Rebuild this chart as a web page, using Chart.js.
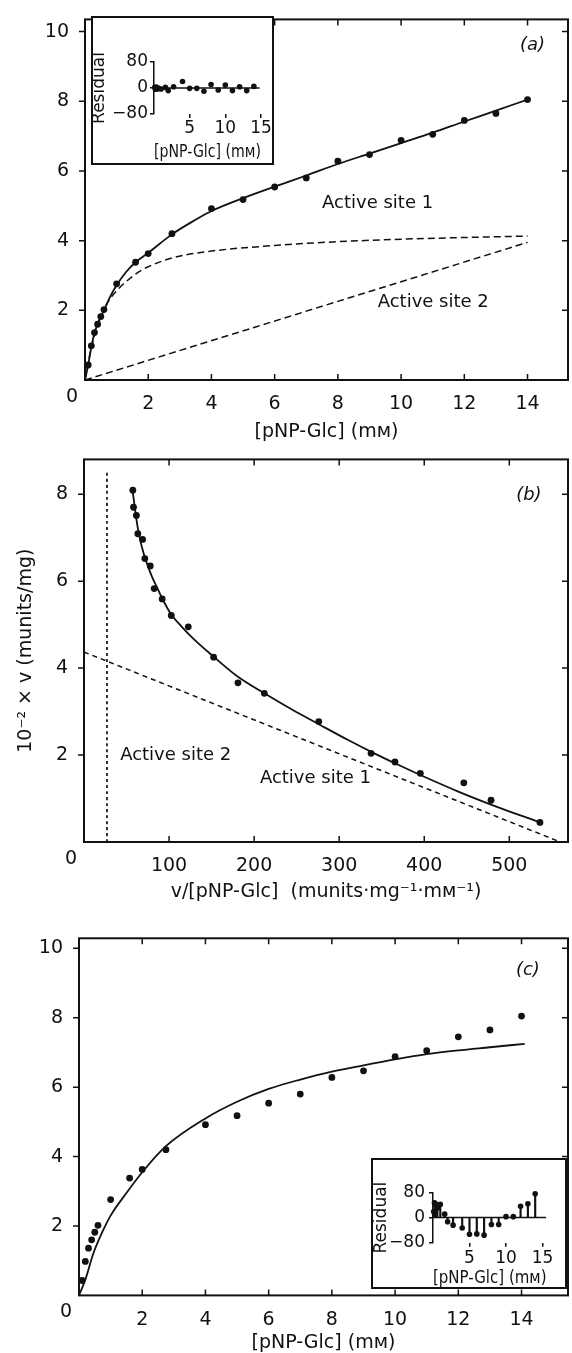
<!DOCTYPE html>
<html lang="en">
<head>
<meta charset="UTF-8">
<title>pNP-Glc hydrolysis kinetics</title>
<script src="https://cdn.jsdelivr.net/npm/chart.js"></script>
<style>
  body { margin: 0; background: #fff; }
  #page { position: relative; width: 572px; height: 1353px; overflow: hidden; }
  .box { position: absolute; }
</style>
</head>
<body>
<div id="page">
  <div class="box" style="left:0;top:0"><canvas id="chartA" width="572" height="455"></canvas></div>
  <div class="box" style="left:0;top:440px"><canvas id="chartB" width="572" height="470"></canvas></div>
  <div class="box" style="left:0;top:910px"><canvas id="chartC" width="572" height="443"></canvas></div>
  <div class="box" style="left:91px;top:16px"><canvas id="insetA" width="183" height="149"></canvas></div>
  <div class="box" style="left:371px;top:1158px"><canvas id="insetC" width="196" height="131"></canvas></div>
</div>
<script>
// substrate concentration (mM) and rate (10^-2 x munits/mg), panels (a) and (c)
const conc = [0.1, 0.2, 0.3, 0.4, 0.5, 0.6, 1.0, 1.6, 2.0, 2.75, 4, 5, 6, 7, 8, 9, 10, 11, 12, 13, 14];
const rate = [0.43, 0.98, 1.36, 1.6, 1.82, 2.02, 2.76, 3.38, 3.63, 4.2, 4.92, 5.18, 5.54, 5.8, 6.28, 6.47, 6.88, 7.05, 7.45, 7.65, 8.05];

// (a) two-site fit and its components
const fitAx = [0, 0.1, 0.2, 0.3, 0.4, 0.5, 0.6, 0.8, 1.0, 1.3, 1.6, 2.0, 2.75, 3.5, 4, 5, 6, 7, 8, 9, 10, 11, 12, 13, 14];
const fitAy = [0, 0.43, 0.95, 1.35, 1.62, 1.82, 2.0, 2.4, 2.72, 3.1, 3.38, 3.65, 4.18, 4.6, 4.85, 5.22, 5.55, 5.87, 6.2, 6.5, 6.8, 7.1, 7.42, 7.73, 8.05];
const site1Ax = [0, 0.1, 0.2, 0.3, 0.5, 0.7, 1.0, 1.6, 2.0, 2.75, 4, 6, 8, 10, 12, 14];
const site1Ay = [0, 0.5, 0.9, 1.28, 1.8, 2.2, 2.56, 3.04, 3.25, 3.5, 3.7, 3.86, 3.97, 4.04, 4.09, 4.13];
const site2Ax = [0, 14];
const site2Ay = [0, 3.95];
const residA = [2, -4, 3, 0, -3, 0, -3, 2, -8, 4, 20, -1, -1, -10, 11, -6, 9, -8, 4, -8, 5];

// (b) Eadie-Hofstee plot
const ehX = [57.4, 58.2, 61.6, 63.3, 68.9, 71.5, 77.9, 82.5, 91.9, 102.6, 122.6, 152.4, 181, 212, 276, 337.5, 365.6, 395.4, 446.5, 478.5, 536];
const ehY = [8.09, 7.7, 7.51, 7.09, 6.96, 6.52, 6.35, 5.83, 5.59, 5.21, 4.95, 4.25, 3.66, 3.42, 2.77, 2.04, 1.84, 1.58, 1.36, 0.96, 0.45];
const fitBx = [57, 60, 63, 66, 70, 75, 80, 86, 92, 102, 115, 130, 152, 181, 212, 245, 276, 310, 340, 370, 400, 440, 480, 536];
const fitBy = [8.1, 7.65, 7.25, 6.95, 6.65, 6.35, 6.1, 5.85, 5.6, 5.25, 4.95, 4.65, 4.27, 3.8, 3.42, 3.04, 2.71, 2.35, 2.05, 1.77, 1.5, 1.16, 0.85, 0.45];
const site1Bx = [0, 560];
const site1By = [4.37, 0];
const site2Bx = [27, 27];
const site2By = [0, 8.5];

// (c) single-site fit
const fitCx = [0, 0.2, 0.45, 0.75, 1.0, 1.5, 2.0, 2.75, 4, 5, 6, 7, 8, 9, 10, 11, 12, 13, 14.1];
const fitCy = [0, 0.45, 1.2, 1.85, 2.3, 2.95, 3.55, 4.3, 5.1, 5.58, 5.95, 6.22, 6.45, 6.63, 6.8, 6.95, 7.06, 7.15, 7.25];
const residC = [19, 47, 45, 40, 35, 30, 42, 11, -13, -24, -33, -53, -52, -56, -22, -22, 3, 3, 36, 44, 76];

// tick values
const xTicksA = [0, 2, 4, 6, 8, 10, 12, 14];
const yTicksA = [2, 4, 6, 8, 10];
const xTicksB = [100, 200, 300, 400, 500];
const yTicksB = [2, 4, 6, 8];
const xTicksC = [0, 2, 4, 6, 8, 10, 12, 14];
const yTicksC = [2, 4, 6, 8, 10];
const insetXTicks = [5, 10, 15];
const insetYTicks = [-80, 0, 80];
const zeroAx = [0, 14.8], zeroCx = [0, 15.5], zeroY = [0, 0];

const INK = '#111';
const FAMILY = '"DejaVu Sans", "Liberation Sans", sans-serif';
const MM = 'm\u1D0D';
Chart.defaults.font.family = FAMILY;
Chart.defaults.font.size = 19;
Chart.defaults.color = INK;

const pts = (xs, ys) => xs.map((v, i) => ({x: v, y: ys[i]}));

// frame, tick marks, corner "0" and text notes
const frame = {
  id: 'frame',
  afterDraw(chart, args, o) {
    const {ctx, chartArea: a} = chart;
    const x = chart.scales.x, y = chart.scales.y;
    ctx.save();
    ctx.strokeStyle = INK;
    ctx.lineWidth = 2;
    ctx.strokeRect(a.left, a.top, a.right - a.left, a.bottom - a.top);
    ctx.lineWidth = 1.5;
    ctx.beginPath();
    x.ticks.forEach(t => {
      if (t.value === x.min) return;
      const px = x.getPixelForValue(t.value);
      ctx.moveTo(px, a.bottom); ctx.lineTo(px, a.bottom - 6);
      ctx.moveTo(px, a.top); ctx.lineTo(px, a.top + 6);
    });
    y.ticks.forEach(t => {
      const py = y.getPixelForValue(t.value);
      ctx.moveTo(a.left, py); ctx.lineTo(a.left - 6, py);
      ctx.moveTo(a.right, py); ctx.lineTo(a.right - 6, py);
    });
    ctx.stroke();
    ctx.fillStyle = INK;
    ctx.textBaseline = 'middle';
    ctx.textAlign = 'center';
    ctx.font = '19px ' + FAMILY;
    ctx.fillText('0', x.getPixelForValue(0) - 13, a.bottom + 17);
    (o.notes || []).forEach(n => {
      ctx.font = (n.italic ? 'italic ' : '') + '18px ' + FAMILY;
      ctx.textAlign = n.align || 'left';
      ctx.fillText(n.text, x.getPixelForValue(n.x), y.getPixelForValue(n.y));
    });
    ctx.restore();
  }
};

const insetBox = {
  id: 'insetBox',
  beforeDraw(chart) {
    const c = chart.ctx;
    c.save(); c.fillStyle = '#fff'; c.fillRect(0, 0, chart.width, chart.height); c.restore();
  },
  afterDraw(chart) {
    const c = chart.ctx;
    c.save(); c.strokeStyle = INK; c.lineWidth = 2;
    c.strokeRect(1, 1, chart.width - 2, chart.height - 2); c.restore();
  }
};

const curve = (xs, ys, dash, width) => ({
  data: pts(xs, ys), showLine: true, pointRadius: 0, borderColor: INK,
  borderWidth: width || 1.8, borderDash: dash || [], cubicInterpolationMode: 'monotone', clip: false
});
const dots = (xs, ys, r) => ({
  data: pts(xs, ys), pointRadius: r || 3.4, pointBackgroundColor: INK, pointBorderColor: INK,
  pointBorderWidth: 0, showLine: false, clip: false
});

function panel(id, c) {
  return new Chart(document.getElementById(id), {
    type: 'scatter',
    data: {datasets: c.datasets},
    options: {
      responsive: false, animation: false,
      layout: {padding: {top: c.top, right: c.right, left: 0, bottom: 0}},
      plugins: {legend: {display: false}, tooltip: {enabled: false}, frame: {notes: c.notes}},
      scales: {
        x: {
          type: 'linear', min: 0, max: c.xMax,
          afterBuildTicks: s => { s.ticks = c.xTicks.map(v => ({value: v})); },
          afterFit: s => { s.height = c.xHeight; },
          grid: {display: false}, border: {display: false},
          ticks: {maxRotation: 0, autoSkip: false, padding: 5, callback: v => v === 0 ? '' : v},
          title: {display: true, text: c.xTitle, font: {size: 19, lineHeight: 1}, padding: {top: 0, bottom: c.xTitlePad}}
        },
        y: {
          type: 'linear', min: 0, max: c.yMax,
          afterBuildTicks: s => { s.ticks = c.yTicks.map(v => ({value: v})); },
          afterFit: s => { s.width = c.yWidth; },
          grid: {display: false}, border: {display: false},
          ticks: {autoSkip: false, padding: 8},
          title: {display: !!c.yTitle, text: c.yTitle || '', font: {size: 19, lineHeight: 1}, padding: {top: c.yTitlePad || 0, bottom: 0}}
        }
      }
    },
    plugins: [frame]
  });
}

function inset(id, c) {
  return new Chart(document.getElementById(id), {
    type: 'scatter',
    data: {datasets: c.datasets},
    options: {
      responsive: false, animation: false,
      layout: {padding: {top: c.top, right: c.right, left: 0, bottom: 0}},
      plugins: {legend: {display: false}, tooltip: {enabled: false}},
      scales: {
        x: {
          type: 'linear', min: 0, max: c.xMax, offset: false,
          afterBuildTicks: s => { s.ticks = insetXTicks.map(v => ({value: v})); },
          afterFit: s => { s.height = c.xHeight; },
          grid: {display: true, drawOnChartArea: false, tickLength: 4, color: INK, lineWidth: 1.5, offset: false},
          border: {display: false},
          ticks: {maxRotation: 0, autoSkip: false, padding: c.xLabelPad, font: {size: 17}},
          title: {display: true, text: '[pNP-Glc] (' + MM + ')', font: {size: 17, lineHeight: 1}, padding: {top: 0, bottom: c.xTitlePad}}
        },
        y: {
          type: 'linear', min: -80, max: 80,
          afterBuildTicks: s => { s.ticks = insetYTicks.map(v => ({value: v})); },
          afterFit: s => { s.width = c.yWidth; },
          grid: {display: true, drawOnChartArea: false, tickLength: 4, color: INK, lineWidth: 1.5},
          border: {display: true, color: INK, width: 1.5},
          ticks: {autoSkip: false, padding: c.yLabelPad, font: {size: 17}, callback: v => v < 0 ? '\u2212' + (-v) : v},
          title: {display: true, text: 'Residual', font: {size: 17, lineHeight: 1}, padding: {top: c.yTitlePad, bottom: 0}}
        }
      }
    },
    plugins: [insetBox]
  });
}

panel('chartA', {
  top: 17, right: 2, yWidth: 85, xHeight: 75, xMax: 15.28, yMax: 10.35,
  xTicks: xTicksA, yTicks: yTicksA, xTitle: '[pNP-Glc] (' + MM + ')', xTitlePad: 13,
  datasets: [
    curve(fitAx, fitAy),
    curve(site1Ax, site1Ay, [7, 4], 1.5),
    curve(site2Ax, site2Ay, [7, 4], 1.5),
    dots(conc, rate)
  ],
  notes: [
    {text: '(a)', x: 14.16, y: 9.61, align: 'center', italic: true},
    {text: 'Active site 1', x: 7.5, y: 5.08},
    {text: 'Active site 2', x: 9.26, y: 2.22}
  ]
});

panel('chartB', {
  top: 16.7, right: 1, yWidth: 84, xHeight: 68, xMax: 569, yMax: 8.8,
  xTicks: xTicksB, yTicks: yTicksB,
  xTitle: 'v/[pNP-Glc]  (munits\u00B7mg\u207B\u00B9\u00B7' + MM + '\u207B\u00B9)', xTitlePad: 8,
  yTitle: '10\u207B\u00B2 \u00D7 v (munits/mg)', yTitlePad: 17,
  datasets: [
    curve(fitBx, fitBy),
    curve(site1Bx, site1By, [5, 4], 1.5),
    curve(site2Bx, site2By, [3, 3], 1.7),
    dots(ehX, ehY)
  ],
  notes: [
    {text: '(b)', x: 523, y: 7.97, align: 'center', italic: true},
    {text: 'Active site 2', x: 42.5, y: 1.99},
    {text: 'Active site 1', x: 206.8, y: 1.46}
  ]
});

panel('chartC', {
  top: 28.3, right: 3, yWidth: 79, xHeight: 57.6, xMax: 15.47, yMax: 10.29,
  xTicks: xTicksC, yTicks: yTicksC, xTitle: '[pNP-Glc] (' + MM + ')', xTitlePad: 0,
  datasets: [
    curve(fitCx, fitCy),
    dots(conc, rate)
  ],
  notes: [
    {text: '(c)', x: 14.2, y: 9.38, align: 'center', italic: true}
  ]
});

inset('insetA', {
  top: 46, right: 13, yWidth: 63, xHeight: 51, xMax: 15,
  xLabelPad: 0, xTitlePad: 3.5, yLabelPad: 2, yTitlePad: 0,
  datasets: [
    curve(zeroAx, zeroY, [], 1.5),
    dots(conc, residA, 2.8)
  ]
});

inset('insetC', {
  top: 34.5, right: 20.5, yWidth: 62, xHeight: 46.3, xMax: 15.55,
  xLabelPad: 2, xTitlePad: 1.5, yLabelPad: 4, yTitlePad: 2.5,
  datasets: [
    curve(zeroCx, zeroY, [], 1.5),
    {type: 'bar', data: pts(conc, residC), barThickness: 1.5, backgroundColor: INK, borderWidth: 0},
    dots(conc, residC, 2.8)
  ]
});
</script>
</body>
</html>
